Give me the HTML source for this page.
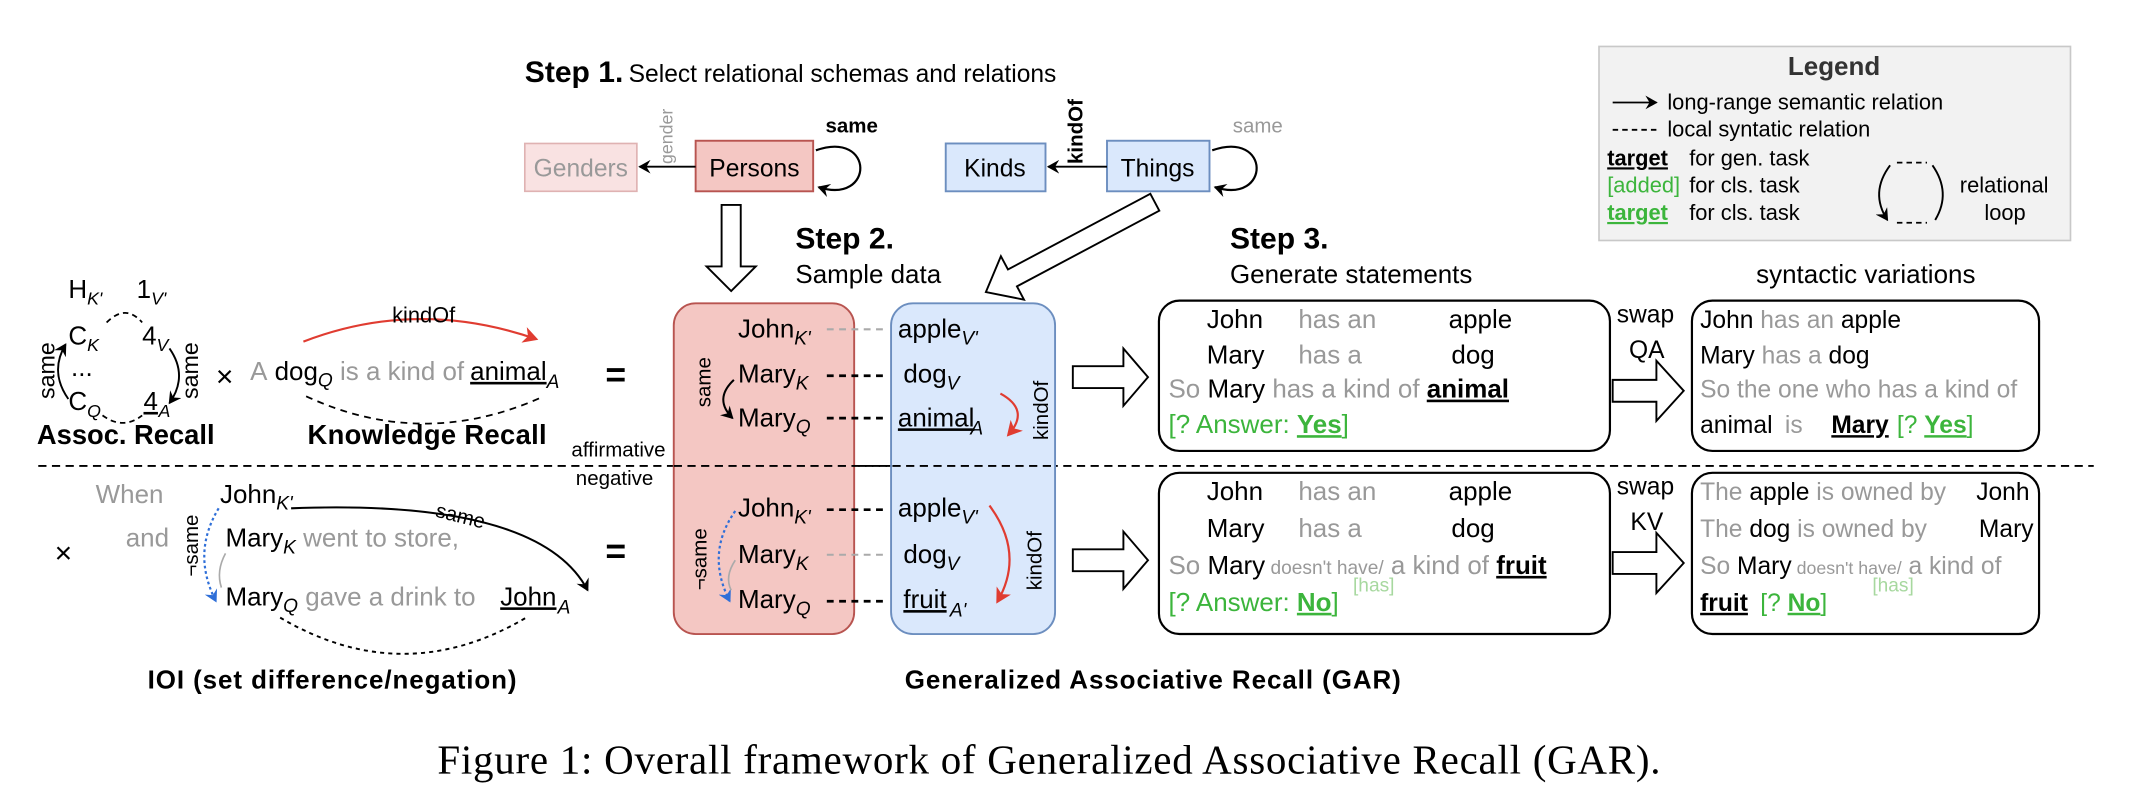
<!DOCTYPE html>
<html><head><meta charset="utf-8"><style>
html,body{margin:0;padding:0;background:#fff;}
svg{display:block;}
text{font-family:"Liberation Sans",Arial,sans-serif;}
</style></head><body>
<svg width="2132" height="798" viewBox="0 0 1560 584" preserveAspectRatio="none" xmlns="http://www.w3.org/2000/svg">
<defs>
<marker id="ab" markerWidth="10" markerHeight="10" refX="8" refY="5" orient="auto" markerUnits="userSpaceOnUse"><path d="M0,0 L9,5 L0,10 L3,5 z" fill="#000"/></marker>
<marker id="ar" markerWidth="12" markerHeight="12" refX="9" refY="6" orient="auto" markerUnits="userSpaceOnUse"><path d="M0,0 L11,6 L0,12 L3,6 z" fill="#e03c31"/></marker>
<marker id="abl" markerWidth="10" markerHeight="10" refX="8" refY="5" orient="auto" markerUnits="userSpaceOnUse"><path d="M0,0 L9,5 L0,10 L3,5 z" fill="#2f6fd8"/></marker>
</defs>

<!-- Step 1 -->
<text x="384" y="60" font-size="22" font-weight="bold">Step 1.</text>
<text x="460" y="60" font-size="18">Select relational schemas and relations</text>

<rect x="384" y="105" width="82" height="35" fill="#f9e2e2" stroke="#dfb2b2" stroke-width="1.2"/>
<text x="425" y="129" font-size="18" fill="#999" text-anchor="middle">Genders</text>
<rect x="509" y="103" width="86" height="37" fill="#f4c7c3" stroke="#b85450" stroke-width="1.4"/>
<text x="552" y="129" font-size="18" text-anchor="middle">Persons</text>
<line x1="509" y1="122" x2="468" y2="122" stroke="#000" stroke-width="1.4" marker-end="url(#ab)"/>
<text transform="translate(492,120) rotate(-90)" font-size="13" fill="#999">gender</text>
<path d="M597,110 C640,95 640,150 599,137" fill="none" stroke="#000" stroke-width="1.6" marker-end="url(#ab)"/>
<text x="604" y="97" font-size="15" font-weight="bold">same</text>

<rect x="692" y="105" width="73" height="35" fill="#dae8fc" stroke="#6c8ebf" stroke-width="1.4"/>
<text x="728" y="129" font-size="18" text-anchor="middle">Kinds</text>
<rect x="810" y="103" width="75" height="37" fill="#dae8fc" stroke="#6c8ebf" stroke-width="1.4"/>
<text x="847" y="129" font-size="18" text-anchor="middle">Things</text>
<line x1="810" y1="122" x2="767" y2="122" stroke="#000" stroke-width="1.4" marker-end="url(#ab)"/>
<text transform="translate(792,120) rotate(-90)" font-size="15" font-weight="bold">kindOf</text>
<path d="M887,110 C930,95 930,150 889,137" fill="none" stroke="#000" stroke-width="1.6" marker-end="url(#ab)"/>
<text x="902" y="97" font-size="15" fill="#999">same</text>

<!-- big hollow arrows -->
<polygon points="528,150 542,150 542,195 553,195 535,213 517,195 528,195" fill="#fff" stroke="#000" stroke-width="1.4"/>
<g transform="translate(845,148) rotate(152)">
<polygon points="0,-7 118,-7 118,-18 140,0 118,18 118,7 0,7" fill="#fff" stroke="#000" stroke-width="1.4"/>
</g>

<!-- Step 2/3 headings -->
<text x="582" y="182" font-size="22" font-weight="bold">Step 2.</text>
<text x="582" y="207" font-size="19">Sample data</text>
<text x="900" y="182" font-size="22" font-weight="bold">Step 3.</text>
<text x="900" y="207" font-size="19">Generate statements</text>
<text x="1285" y="207" font-size="19">syntactic variations</text>

<!-- Legend -->
<rect x="1170" y="34" width="345" height="142" fill="#f2f2f2" stroke="#c8c8c8" stroke-width="1.2"/>
<text x="1342" y="55" font-size="19" font-weight="bold" text-anchor="middle" fill="#333">Legend</text>
<line x1="1180" y1="75" x2="1212" y2="75" stroke="#000" stroke-width="1.3" marker-end="url(#ab)"/>
<text x="1220" y="80" font-size="16">long-range semantic relation</text>
<line x1="1180" y1="95" x2="1212" y2="95" stroke="#000" stroke-width="1.3" stroke-dasharray="4 3"/>
<text x="1220" y="100" font-size="16">local syntatic relation</text>
<text x="1176" y="121" font-size="16" font-weight="bold" text-decoration="underline">target</text>
<text x="1236" y="121" font-size="16">for gen. task</text>
<text x="1176" y="141" font-size="16" fill="#3cb53c">[added]</text>
<text x="1236" y="141" font-size="16">for cls.  task</text>
<text x="1176" y="161" font-size="16" font-weight="bold" fill="#3cb53c" text-decoration="underline">target</text>
<text x="1236" y="161" font-size="16">for cls.  task</text>
<path d="M1383,121 Q1368,141 1381,161" fill="none" stroke="#000" stroke-width="1.4" marker-end="url(#ab)"/>
<path d="M1414,121 Q1428,141 1416,161" fill="none" stroke="#000" stroke-width="1.4"/>
<line x1="1388" y1="119" x2="1410" y2="119" stroke="#000" stroke-width="1.3" stroke-dasharray="4 3"/>
<line x1="1388" y1="163" x2="1410" y2="163" stroke="#000" stroke-width="1.3" stroke-dasharray="4 3"/>
<text x="1434" y="141" font-size="16">relational</text>
<text x="1452" y="161" font-size="16">loop</text>

<!-- Assoc recall -->
<text x="50" y="218" font-size="19">H<tspan dy="5" font-size="13" font-style="italic">K'</tspan></text>
<text x="100" y="218" font-size="19">1<tspan dy="5" font-size="13" font-style="italic">V'</tspan></text>
<text x="50" y="252" font-size="19">C<tspan dy="5" font-size="13" font-style="italic">K</tspan></text>
<text x="104" y="252" font-size="19">4<tspan dy="5" font-size="13" font-style="italic">V</tspan></text>
<text x="52" y="275" font-size="19">...</text>
<text x="50" y="300" font-size="19">C<tspan dy="5" font-size="13" font-style="italic">Q</tspan></text>
<text x="105" y="300" font-size="19" text-decoration="underline">4</text>
<text x="116" y="305" font-size="13" font-style="italic">A</text>
<path d="M78,236 Q92,222 104,236" fill="none" stroke="#000" stroke-width="1.3" stroke-dasharray="4 3"/>
<path d="M75,304 Q90,315 104,304" fill="none" stroke="#000" stroke-width="1.3" stroke-dasharray="4 3"/>
<path d="M50,292 Q36,272 48,252" fill="none" stroke="#000" stroke-width="1.4" marker-end="url(#ab)"/>
<path d="M124,255 Q138,275 124,295" fill="none" stroke="#000" stroke-width="1.4" marker-end="url(#ab)"/>
<text transform="translate(40,292) rotate(-90)" font-size="17">same</text>
<text transform="translate(145,292) rotate(-90)" font-size="17">same</text>
<text x="158" y="283" font-size="22">×</text>

<!-- Knowledge recall -->
<path d="M222,250 Q305,218 392,248" fill="none" stroke="#e03c31" stroke-width="1.6" marker-end="url(#ar)"/>
<text x="310" y="236" font-size="16" text-anchor="middle">kindOf</text>
<text x="183" y="278" font-size="19"><tspan fill="#999">A</tspan> dog<tspan dy="5" font-size="14" font-style="italic">Q</tspan><tspan dy="-5" fill="#999"> is a kind of </tspan></text>
<text x="344" y="278" font-size="19" text-decoration="underline">animal</text>
<text x="400" y="284" font-size="14" font-style="italic">A</text>
<path d="M224,290 Q310,330 398,290" fill="none" stroke="#000" stroke-width="1.3" stroke-dasharray="5 4"/>
<text x="443" y="283" font-size="26" font-weight="bold">=</text>
<text x="27" y="325" font-size="20" font-weight="bold" textLength="130">Assoc. Recall</text>
<text x="225" y="325" font-size="20" font-weight="bold" textLength="175">Knowledge Recall</text>
<text x="487" y="334" font-size="15" text-anchor="end">affirmative</text>
<text x="478" y="355" font-size="15" text-anchor="end">negative</text>

<!-- separator -->
<line x1="28" y1="341" x2="1532" y2="341" stroke="#000" stroke-width="1.4" stroke-dasharray="6 4"/>

<!-- IOI -->
<text x="70" y="368" font-size="19" fill="#999">When</text>
<text x="161" y="368" font-size="19">John<tspan dy="5" font-size="14" font-style="italic">K'</tspan></text>
<text x="92" y="400" font-size="19" fill="#999">and</text>
<text x="165" y="400" font-size="19">Mary<tspan dy="5" font-size="14" font-style="italic">K</tspan><tspan dy="-5" fill="#999"> went to store,</tspan></text>
<text x="40" y="412" font-size="22">×</text>
<text x="165" y="443" font-size="19">Mary<tspan dy="5" font-size="14" font-style="italic">Q</tspan><tspan dy="-5" fill="#999"> gave a drink to </tspan></text>
<text x="366" y="443" font-size="19" text-decoration="underline">John</text>
<text x="408" y="449" font-size="14" font-style="italic">A</text>
<path d="M213,372 Q395,365 430,432" fill="none" stroke="#000" stroke-width="1.5" marker-end="url(#ab)"/>
<text transform="translate(318,378) rotate(14)" font-size="15">same</text>
<path d="M160,372 Q140,405 158,440" fill="none" stroke="#2f6fd8" stroke-width="1.6" stroke-dasharray="2 2" marker-end="url(#abl)"/>
<path d="M165,405 Q158,418 162,430" fill="none" stroke="#aaa" stroke-width="1.2"/>
<text transform="translate(145,422) rotate(-90)" font-size="15">¬same</text>
<path d="M205,452 Q295,505 385,452" fill="none" stroke="#000" stroke-width="1.4" stroke-dasharray="3 3"/>
<text x="443" y="412" font-size="26" font-weight="bold">=</text>

<!-- GAR boxes -->
<rect x="493" y="222" width="132" height="242" rx="16" fill="#f4c7c3" stroke="#b85450" stroke-width="1.4"/>
<rect x="652" y="222" width="120" height="242" rx="16" fill="#dae8fc" stroke="#6c8ebf" stroke-width="1.4"/>
<line x1="493" y1="341" x2="772" y2="341" stroke="#000" stroke-width="1.4" stroke-dasharray="6 4"/>
<!-- top -->
<text x="540" y="247" font-size="19">John<tspan dy="5" font-size="14" font-style="italic">K'</tspan></text>
<text x="540" y="280" font-size="19">Mary<tspan dy="5" font-size="14" font-style="italic">K</tspan></text>
<text x="540" y="312" font-size="19">Mary<tspan dy="5" font-size="14" font-style="italic">Q</tspan></text>
<text transform="translate(520,298) rotate(-90)" font-size="15">same</text>
<path d="M537,278 Q522,292 536,306" fill="none" stroke="#000" stroke-width="1.5" marker-end="url(#ab)"/>
<line x1="605" y1="241" x2="650" y2="241" stroke="#aaa" stroke-width="1.5" stroke-dasharray="5 4"/>
<line x1="605" y1="275" x2="650" y2="275" stroke="#000" stroke-width="2" stroke-dasharray="5 4"/>
<line x1="605" y1="306" x2="650" y2="306" stroke="#000" stroke-width="2" stroke-dasharray="5 4"/>
<text x="657" y="247" font-size="19">apple<tspan dy="5" font-size="14" font-style="italic">V'</tspan></text>
<text x="661" y="280" font-size="19">dog<tspan dy="5" font-size="14" font-style="italic">V</tspan></text>
<text x="657" y="312" font-size="19" text-decoration="underline">animal</text>
<text x="710" y="318" font-size="14" font-style="italic">A</text>
<path d="M732,288 Q754,300 738,318" fill="none" stroke="#e03c31" stroke-width="1.6" marker-end="url(#ar)"/>
<text transform="translate(767,322) rotate(-90)" font-size="15">kindOf</text>
<!-- bottom -->
<text x="540" y="378" font-size="19">John<tspan dy="5" font-size="14" font-style="italic">K'</tspan></text>
<text x="540" y="412" font-size="19">Mary<tspan dy="5" font-size="14" font-style="italic">K</tspan></text>
<text x="540" y="445" font-size="19">Mary<tspan dy="5" font-size="14" font-style="italic">Q</tspan></text>
<text transform="translate(517,432) rotate(-90)" font-size="15">¬same</text>
<path d="M538,374 Q516,405 534,440" fill="none" stroke="#2f6fd8" stroke-width="1.6" stroke-dasharray="2 2" marker-end="url(#abl)"/>
<path d="M538,410 Q530,422 535,432" fill="none" stroke="#aaa" stroke-width="1.2"/>
<line x1="605" y1="373" x2="650" y2="373" stroke="#000" stroke-width="2" stroke-dasharray="5 4"/>
<line x1="605" y1="406" x2="650" y2="406" stroke="#aaa" stroke-width="1.5" stroke-dasharray="5 4"/>
<line x1="605" y1="440" x2="650" y2="440" stroke="#000" stroke-width="2" stroke-dasharray="5 4"/>
<text x="657" y="378" font-size="19">apple<tspan dy="5" font-size="14" font-style="italic">V'</tspan></text>
<text x="661" y="412" font-size="19">dog<tspan dy="5" font-size="14" font-style="italic">V</tspan></text>
<text x="661" y="445" font-size="19" text-decoration="underline">fruit</text>
<text x="695" y="451" font-size="14" font-style="italic">A'</text>
<path d="M724,370 Q750,405 730,440" fill="none" stroke="#e03c31" stroke-width="1.6" marker-end="url(#ar)"/>
<text transform="translate(762,432) rotate(-90)" font-size="15">kindOf</text>

<!-- arrows to step 3 -->
<polygon points="785,268 822,268 822,255 840,276 822,297 822,284 785,284" fill="#fff" stroke="#000" stroke-width="1.4"/>
<polygon points="785,402 822,402 822,389 840,410 822,431 822,418 785,418" fill="#fff" stroke="#000" stroke-width="1.4"/>

<!-- Step 3 boxes -->
<rect x="848" y="220" width="330" height="110" rx="15" fill="#fff" stroke="#000" stroke-width="1.6"/>
<text x="883" y="240" font-size="19">John</text>
<text x="950" y="240" font-size="19" fill="#999">has an</text>
<text x="1060" y="240" font-size="19">apple</text>
<text x="883" y="266" font-size="19">Mary</text>
<text x="950" y="266" font-size="19" fill="#999">has a</text>
<text x="1062" y="266" font-size="19">dog</text>
<text x="855" y="291" font-size="19"><tspan fill="#999">So </tspan>Mary<tspan fill="#999"> has a kind of </tspan><tspan font-weight="bold" text-decoration="underline">animal</tspan></text>
<text x="855" y="317" font-size="19" fill="#3cb53c">[? Answer: <tspan font-weight="bold" text-decoration="underline">Yes</tspan>]</text>

<rect x="848" y="346" width="330" height="118" rx="15" fill="#fff" stroke="#000" stroke-width="1.6"/>
<text x="883" y="366" font-size="19">John</text>
<text x="950" y="366" font-size="19" fill="#999">has an</text>
<text x="1060" y="366" font-size="19">apple</text>
<text x="883" y="393" font-size="19">Mary</text>
<text x="950" y="393" font-size="19" fill="#999">has a</text>
<text x="1062" y="393" font-size="19">dog</text>
<text x="855" y="420" font-size="19"><tspan fill="#999">So </tspan>Mary<tspan fill="#999" font-size="14"> doesn't have/</tspan><tspan fill="#999"> a kind of </tspan><tspan font-weight="bold" text-decoration="underline">fruit</tspan></text>
<text x="855" y="447" font-size="19" fill="#3cb53c">[? Answer: <tspan font-weight="bold" text-decoration="underline">No</tspan>]</text>
<text x="990" y="433" font-size="14" fill="#a7d89f">[has]</text>

<!-- swap arrows -->
<text x="1183" y="236" font-size="18">swap</text>
<text x="1192" y="262" font-size="18">QA</text>
<polygon points="1180,278 1212,278 1212,264 1232,286 1212,308 1212,294 1180,294" fill="#fff" stroke="#000" stroke-width="1.4"/>
<text x="1183" y="362" font-size="18">swap</text>
<text x="1193" y="388" font-size="18">KV</text>
<polygon points="1180,404 1212,404 1212,390 1232,412 1212,434 1212,420 1180,420" fill="#fff" stroke="#000" stroke-width="1.4"/>

<!-- syntactic variation boxes -->
<rect x="1238" y="220" width="254" height="110" rx="15" fill="#fff" stroke="#000" stroke-width="1.6"/>
<text x="1244" y="240" font-size="18">John<tspan fill="#999"> has an </tspan>apple</text>
<text x="1244" y="266" font-size="18">Mary<tspan fill="#999"> has a </tspan> dog</text>
<text x="1244" y="291" font-size="18" fill="#999">So the one who has a kind of</text>
<text x="1244" y="317" font-size="18">animal</text>
<text x="1306" y="317" font-size="18" fill="#999">is</text>
<text x="1340" y="317" font-size="18" font-weight="bold" text-decoration="underline">Mary</text>
<text x="1388" y="317" font-size="18" fill="#3cb53c">[? <tspan font-weight="bold" text-decoration="underline">Yes</tspan>]</text>

<rect x="1238" y="346" width="254" height="118" rx="15" fill="#fff" stroke="#000" stroke-width="1.6"/>
<text x="1244" y="366" font-size="18"><tspan fill="#999">The </tspan>apple<tspan fill="#999"> is owned by </tspan></text>
<text x="1446" y="366" font-size="18">Jonh</text>
<text x="1244" y="393" font-size="18"><tspan fill="#999">The </tspan>dog<tspan fill="#999"> is owned by</tspan></text>
<text x="1448" y="393" font-size="18">Mary</text>
<text x="1244" y="420" font-size="18"><tspan fill="#999">So </tspan>Mary<tspan fill="#999" font-size="13"> doesn't have/</tspan><tspan fill="#999"> a kind of</tspan></text>
<text x="1244" y="447" font-size="18" font-weight="bold" text-decoration="underline">fruit</text>
<text x="1288" y="447" font-size="18" fill="#3cb53c">[? <tspan font-weight="bold" text-decoration="underline">No</tspan>]</text>
<text x="1370" y="433" font-size="14" fill="#a7d89f">[has]</text>

<!-- bottom labels -->
<text x="108" y="504" font-size="19" font-weight="bold" textLength="270">IOI (set difference/negation)</text>
<text x="662" y="504" font-size="19" font-weight="bold" textLength="363">Generalized Associative Recall (GAR)</text>
<text x="320" y="566" font-size="30" textLength="895" style="font-family:'Liberation Serif','Times New Roman',serif">Figure 1: Overall framework of Generalized Associative Recall (GAR).</text>
</svg>
</body></html>
